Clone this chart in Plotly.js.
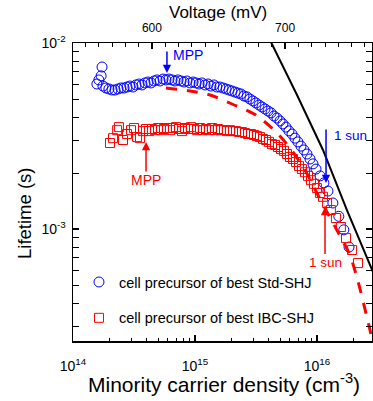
<!DOCTYPE html>
<html><head><meta charset="utf-8">
<script src="https://cdn.plot.ly/plotly-3.0.1.min.js"></script>
<style>html,body{margin:0;padding:0;background:#fff}#chart{width:373px;height:401px}</style>
</head><body><div id="chart"></div>
<script>
// cell precursor of best Std-SHJ (blue circles)
const stdN = [1.57e14,1.63e14,1.70e14,1.73e14,1.76e14,1.86e14,1.97e14,2.09e14,2.21e14,2.34e14,2.47e14,2.62e14,2.77e14,2.93e14,3.10e14,3.28e14,3.48e14,3.68e14,3.89e14,4.12e14,4.36e14,4.61e14,4.88e14,5.17e14,5.47e14,5.78e14,6.12e14,6.48e14,6.85e14,7.26e14,7.68e14,8.13e14,8.59e14,9.10e14,9.64e14,1.02e15,1.08e15,1.14e15,1.21e15,1.28e15,1.35e15,1.43e15,1.51e15,1.60e15,1.70e15,1.80e15,1.90e15,2.01e15,2.13e15,2.25e15,2.38e15,2.52e15,2.67e15,2.82e15,2.99e15,3.16e15,3.35e15,3.54e15,3.75e15,3.97e15,4.20e15,4.44e15,4.70e15,4.98e15,5.26e15,5.57e15,5.89e15,6.24e15,6.60e15,6.98e15,7.39e15,7.82e15,8.28e15,8.77e15,9.27e15,9.82e15,1.06e16,1.14e16,1.23e16,1.35e16,1.51e16,1.66e16,1.83e16];
const stdTau = [6.02e-3,6.33e-3,6.66e-3,7.43e-3,5.87e-3,5.73e-3,5.66e-3,5.59e-3,5.59e-3,5.66e-3,5.73e-3,5.73e-3,5.80e-3,5.87e-3,5.80e-3,5.95e-3,6.02e-3,5.95e-3,6.10e-3,6.17e-3,6.10e-3,6.25e-3,6.33e-3,6.25e-3,6.40e-3,6.33e-3,6.40e-3,6.33e-3,6.25e-3,6.33e-3,6.25e-3,6.17e-3,6.25e-3,6.10e-3,6.17e-3,6.10e-3,6.02e-3,6.10e-3,5.95e-3,6.02e-3,5.87e-3,5.95e-3,5.80e-3,5.80e-3,5.73e-3,5.66e-3,5.59e-3,5.52e-3,5.45e-3,5.38e-3,5.32e-3,5.19e-3,5.13e-3,5.00e-3,4.88e-3,4.76e-3,4.64e-3,4.53e-3,4.42e-3,4.31e-3,4.21e-3,4.05e-3,3.95e-3,3.81e-3,3.67e-3,3.53e-3,3.37e-3,3.24e-3,3.08e-3,2.94e-3,2.79e-3,2.66e-3,2.53e-3,2.38e-3,2.24e-3,2.10e-3,1.93e-3,1.77e-3,1.60e-3,1.38e-3,1.17e-3,0.99e-3,0.80e-3];

// cell precursor of best IBC-SHJ (red squares)
const ibcN = [2.01e14,2.13e14,2.30e14,2.38e14,2.57e14,2.77e14,2.99e14,3.16e14,3.35e14,3.54e14,3.75e14,3.97e14,4.20e14,4.44e14,4.70e14,4.98e14,5.26e14,5.57e14,5.89e14,6.24e14,6.61e14,6.98e14,7.40e14,7.82e14,8.28e14,8.77e14,9.27e14,9.82e14,1.04e15,1.10e15,1.16e15,1.23e15,1.30e15,1.38e15,1.46e15,1.54e15,1.63e15,1.73e15,1.83e15,1.94e15,2.05e15,2.17e15,2.30e15,2.43e15,2.57e15,2.72e15,2.88e15,3.05e15,3.22e15,3.41e15,3.61e15,3.82e15,4.04e15,4.28e15,4.53e15,4.79e15,5.07e15,5.37e15,5.68e15,6.01e15,6.36e15,6.73e15,7.12e15,7.53e15,7.98e15,8.44e15,8.93e15,9.45e15,1.00e16,1.06e16,1.12e16,1.21e16,1.30e16,1.43e16,1.57e16,1.73e16,1.94e16,2.17e16];
const ibcTau = [2.90e-3,3.08e-3,3.40e-3,3.53e-3,3.01e-3,3.24e-3,3.40e-3,3.49e-3,3.12e-3,3.08e-3,3.36e-3,3.45e-3,3.36e-3,3.45e-3,3.40e-3,3.49e-3,3.40e-3,3.45e-3,3.49e-3,3.40e-3,3.49e-3,3.53e-3,3.45e-3,3.36e-3,3.49e-3,3.45e-3,3.53e-3,3.45e-3,3.40e-3,3.49e-3,3.40e-3,3.45e-3,3.40e-3,3.49e-3,3.40e-3,3.45e-3,3.40e-3,3.40e-3,3.36e-3,3.40e-3,3.36e-3,3.36e-3,3.32e-3,3.32e-3,3.28e-3,3.24e-3,3.24e-3,3.20e-3,3.16e-3,3.12e-3,3.05e-3,3.01e-3,2.94e-3,2.86e-3,2.83e-3,2.76e-3,2.69e-3,2.63e-3,2.53e-3,2.44e-3,2.38e-3,2.29e-3,2.18e-3,2.10e-3,2.02e-3,1.93e-3,1.83e-3,1.75e-3,1.66e-3,1.56e-3,1.49e-3,1.38e-3,1.265e-3,1.146e-3,1.025e-3,0.894e-3,0.771e-3,0.656e-3];

// red dashed curve
const fitN = [5.78e14,9.10e14,1.33e15,2.01e15,3.05e15,4.45e15,6.01e15,7.98e15,1.02e16,1.28e16,1.55e16,1.86e16,2.13e16,2.43e16,2.82e16];
const fitTau = [5.73e-3,5.52e-3,5.25e-3,4.70e-3,4.15e-3,3.40e-3,2.72e-3,2.07e-3,1.52e-3,1.15e-3,0.916e-3,0.724e-3,0.546e-3,0.390e-3,0.259e-3];

// black solid limit line
const limN = [3.75e15,6.86e15,1.12e16,1.76e16,2.88e16];
const limTau = [1.175e-2,5.25e-3,2.66e-3,1.265e-3,0.587e-3];

const xTickVals = [1e14,1e15,1e16];
const xTickText = ['10<sup>14</sup>','10<sup>15</sup>','10<sup>16</sup>'];
const xMinorVals = [2e14,3e14,4e14,5e14,6e14,7e14,8e14,9e14,2e15,3e15,4e15,5e15,6e15,7e15,8e15,9e15,2e16];
const yTickVals = [1e-3,1e-2];
const yTickText = ['10<sup>-3</sup>','10<sup>-2</sup>'];
const yMinorVals = [3e-4,4e-4,5e-4,6e-4,7e-4,8e-4,9e-4,2e-3,3e-3,4e-3,5e-3,6e-3,7e-3,8e-3,9e-3];
const vTickVals = [600,700];
const vTickText = ['600','700'];

const FONT = 'Arial, "Liberation Sans", sans-serif';
const L = Math.log10;

const traces = [
  {x: vTickVals, y: [null, null], xaxis:'x2', yaxis:'y', mode:'markers', showlegend:false, hoverinfo:'skip'},
  {x: limN, y: limTau, mode:'lines', line:{color:'black', width:2}, showlegend:false, hoverinfo:'skip'},
  {x: stdN, y: stdTau, mode:'markers', name:'cell precursor of best Std-SHJ', legendgroup:'a',
   marker:{symbol:'circle-open', size:10, color:'#0000ff', line:{width:1, color:'#0000ff'}}},
  {x: ibcN, y: ibcTau, mode:'markers', name:'cell precursor of best IBC-SHJ', legendgroup:'b',
   marker:{symbol:'square-open', size:9, color:'#ff0000', line:{width:1, color:'#ff0000'}}},
  {x: fitN, y: fitTau, mode:'lines', line:{color:'#ff0000', width:3, dash:'11px,10px', shape:'spline'}, showlegend:false, hoverinfo:'skip'}
];

function arrow(n, tau, ay, color) {
  return {x: L(n), y: L(tau), xref:'x', yref:'y', text:'', showarrow:true, ax:0, ay:ay,
    arrowhead:2, arrowsize:1.1, arrowwidth:1.5, arrowcolor:color, standoff:0, startstandoff:0};
}
function arrowText(n, tau, ay, txt, color, size) {
  return {x: L(n), y: L(tau), xref:'x', yref:'y', text:txt, showarrow:true, ax:0, ay:ay,
    arrowhead:2, arrowsize:1.1, arrowwidth:1.5, arrowcolor:color, standoff:0, startstandoff:0,
    borderpad:0, font:{family:FONT, size:size, color:color}};
}
function label(n, tau, txt, color, xanchor, size) {
  return {x: L(n), y: L(tau), xref:'x', yref:'y', text:txt, showarrow:false, xanchor:xanchor, yanchor:'middle',
    font:{family:FONT, size:size, color:color}};
}

const annotations = [
  arrow(5.89e14, 6.90e-3, -23, '#0000ff'),
  label(6.35e14, 8.62e-3, 'MPP', '#0000ff', 'left', 14),
  arrowText(3.97e14, 2.94e-3, 38, 'MPP', '#ff0000', 14),
  arrow(1.186e16, 1.766e-3, -55, '#0000ff'),
  label(1.327e16, 3.20e-3, '1 sun', '#0000ff', 'left', 13.5),
  arrowText(1.164e16, 1.312e-3, 55, '1 sun', '#ff0000', 13.5),
  {xref:'paper', yref:'paper', x:-0.164, y:0.4295, text:'Lifetime (s)', textangle:-90, showarrow:false,
   xanchor:'center', yanchor:'middle', font:{family:FONT, size:18.5, color:'black'}},
  {xref:'paper', yref:'paper', x:0.505, y:-0.141, text:'Minority carrier density (cm<sup>-3</sup>)', showarrow:false,
   xanchor:'center', yanchor:'middle', font:{family:FONT, size:21, color:'black'}},
  {xref:'paper', yref:'paper', x:0.485, y:1.1017, text:'Voltage (mV)', showarrow:false,
   xanchor:'center', yanchor:'middle', font:{family:FONT, size:17, color:'black'}}
];

const layout = {
  width:373, height:401,
  margin:{l:73, r:1, t:43, b:60},
  paper_bgcolor:'white', plot_bgcolor:'white',
  font:{family:FONT, color:'black'},
  showlegend:true,
  legend:{x:0.0200, y:0.2515, xanchor:'left', yanchor:'top', bgcolor:'rgba(0,0,0,0)',
    font:{family:FONT, size:14.5, color:'black'}, traceorder:'grouped', tracegroupgap:14},
  xaxis:{type:'log', range:[14, 16.451], showgrid:false, zeroline:false,
    showline:true, linecolor:'black', linewidth:1.5, mirror:true,
    tickmode:'array', tickvals:xTickVals, ticktext:xTickText,
    ticks:'inside', ticklen:6, tickwidth:1.2, tickcolor:'black',
    minor:{tickmode:'array', tickvals:xMinorVals, ticks:'inside', ticklen:3.5, tickwidth:1, tickcolor:'black', showgrid:false},
    tickfont:{family:FONT, size:14, color:'black'}, ticklabelstandoff:12,
    automargin:false},
  xaxis2:{overlaying:'x', side:'top', anchor:'y', type:'linear', range:[540.7, 765.3], showgrid:false, zeroline:false,
    showline:true, linecolor:'black', linewidth:1.5,
    tickmode:'array', tickvals:vTickVals, ticktext:vTickText,
    ticks:'inside', ticklen:6, tickwidth:1.2, tickcolor:'black',
    minor:{dtick:10, tick0:0, ticks:'inside', ticklen:3.5, tickwidth:1, tickcolor:'black', showgrid:false},
    tickfont:{family:FONT, size:12, color:'black'}, ticklabelstandoff:5,
    automargin:false},
  yaxis:{type:'log', range:[-3.602, -2], showgrid:false, zeroline:false,
    showline:true, linecolor:'black', linewidth:1.5, mirror:'allticks',
    tickmode:'array', tickvals:yTickVals, ticktext:yTickText,
    ticks:'inside', ticklen:6, tickwidth:1.2, tickcolor:'black',
    minor:{tickmode:'array', tickvals:yMinorVals, ticks:'inside', ticklen:3.5, tickwidth:1, tickcolor:'black', showgrid:false},
    tickfont:{family:FONT, size:14, color:'black'}, ticklabelstandoff:3,
    automargin:false},
  annotations: annotations
};

Plotly.newPlot('chart', traces, layout, {displayModeBar:false, staticPlot:true});
</script></body></html>
